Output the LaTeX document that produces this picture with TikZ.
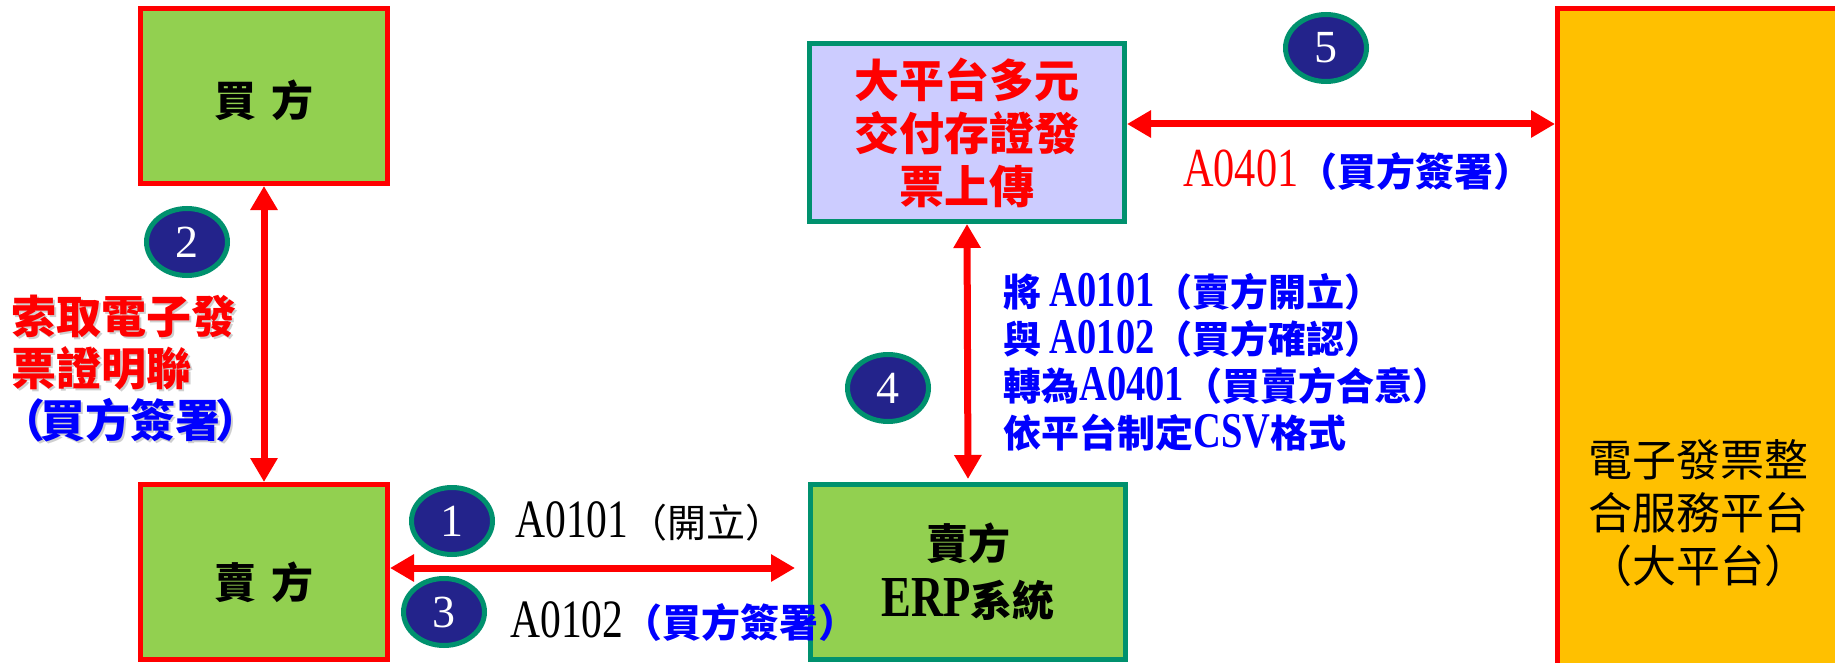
\documentclass[tikz,border=0pt]{standalone}
\usepackage{fontspec}
\setmainfont{Liberation Serif}
\newfontfamily\cjk{Noto Sans CJK TC}
\newfontfamily\lat[FakeStretch=0.77]{Liberation Serif}
\newcommand\LT[2]{{\lat\fontsize{#1}{#1}\selectfont #2}}
\usetikzlibrary{arrows.meta,shapes.geometric}
\definecolor{boxgreen}{HTML}{92D050}
\definecolor{tealb}{HTML}{00916E}
\definecolor{lav}{HTML}{CCCCFF}
\definecolor{navy}{HTML}{23238B}
\definecolor{gold}{HTML}{FFC000}
\definecolor{pblue}{HTML}{0000FF}
\definecolor{pred}{HTML}{FF0000}
\definecolor{shade}{HTML}{CFCFCF}
\tikzset{
  partybox/.style={draw=pred, fill=boxgreen, line width=5pt, minimum width=247pt, minimum height=175pt, inner sep=0pt},
  sysbox/.style={draw=tealb, line width=5pt, minimum width=315pt, inner sep=0pt, align=center},
  numc/.style={ellipse, draw=tealb, fill=navy, line width=5pt, minimum width=81pt, minimum height=67pt, inner sep=0pt, text=white, font=\fontsize{46}{46}\selectfont},
  flow/.style={draw=pred, line width=7pt, {Triangle[length=24pt,width=26pt]}-{Triangle[length=24pt,width=26pt]}},
  bigtxt/.style={font=\cjk\bfseries\fontsize{42}{42}\selectfont},
  msg/.style={anchor=west, inner sep=0pt, font=\cjk\fontsize{39}{39}\selectfont},
  sidelab/.style={anchor=west, inner sep=0pt, align=left, font=\cjk\bfseries\fontsize{45}{52}\selectfont},
}
\begin{document}
\begin{tikzpicture}[x=1pt,y=-1pt]
\useasboundingbox (0,0) rectangle (1835,663);
\clip (0,0) rectangle (1835,663);
\fill[white] (0,0) rectangle (1835,663);

% boxes
\node[partybox] (buyer) at (264,96) {};
\node[bigtxt] (buyerT) at (264,100) {買\hspace{16pt}方};
\node[partybox] (seller) at (264,572) {};
\node[bigtxt] (sellerT) at (264,582) {賣\hspace{16pt}方};
\node[sysbox, fill=lav, minimum height=178pt, text=pred, font=\cjk\bfseries\fontsize{45}{53}\selectfont] (up) at (967,132.5) {大平台多元\\交付存證發\\票上傳};
\node[sysbox, fill=boxgreen, minimum height=175pt, font=\cjk\bfseries\fontsize{42}{57}\selectfont] (erp) at (968,572) {賣方\\\LT{58}{ERP}系統};
\node[draw=pred, fill=gold, line width=5pt, minimum width=290pt, minimum height=690pt, anchor=north west, inner sep=0pt] (plat) at (1555,6) {};
\node[align=center, font=\cjk\fontsize{44}{53}\selectfont] (platT) at (1698,513) {電子發票整\\合服務平台\\（大平台）};

% connectors
\draw[flow] (buyer.south) -- (seller.north);
\draw[flow, shorten >=3pt] (up.south) -- (erp.north);
\draw[flow, shorten >=13pt] ([yshift=4pt]seller.east) -- ([yshift=4pt]seller.east -| erp.west);
\draw[flow] ([yshift=8.5pt]up.east) -- ([yshift=8.5pt]up.east -| plat.west);

% step markers
\node[numc] (c1) at (452,521) {1};
\node[numc] (c2) at (187,242) {2};
\node[numc] (c3) at (444,612) {3};
\node[numc] (c4) at (888,388) {4};
\node[numc] (c5) at (1326,48) {5};

% labels
\node[sidelab, text=shade] (lab2s) at (13,371)
  {索取電子發\\票證明聯\\\hspace*{-11pt}（\kern-5pt 買方簽署\kern-5pt）};
\node[sidelab] (lab2) at (11,369)
  {\textcolor{pred}{索取電子發}\\\textcolor{pred}{票證明聯}\\\hspace*{-11pt}\textcolor{pblue}{（\kern-5pt 買方簽署\kern-5pt）}};
\node[msg] (lab1) at (515,521) {\LT{54}{A0101}（開立）};
\node[msg] (lab3) at (510,622) {\LT{54}{A0102}\textcolor{pblue}{\bfseries（買方簽署）}};
\node[anchor=west, inner sep=0pt, align=left, text=pblue, font=\cjk\bfseries\fontsize{38}{47}\selectfont] (lab4) at (1003,362)
  {將 \LT{50}{\bfseries A0101}（賣方開立）\\與 \LT{50}{\bfseries A0102}（買方確認）\\轉為\LT{50}{\bfseries A0401}（買賣方合意）\\依平台制定\LT{50}{\bfseries CSV}格式};
\node[msg] (lab5) at (1183,170) {\textcolor{pred}{\LT{55}{A0401}}\textcolor{pblue}{\bfseries（買方簽署）}};
\end{tikzpicture}
\end{document}
